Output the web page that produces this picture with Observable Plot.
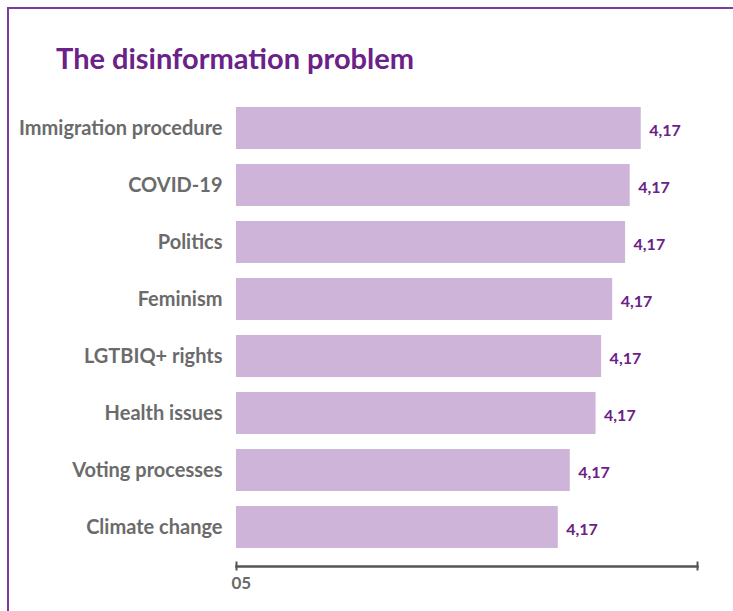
<!DOCTYPE html>
<html>
<head>
<meta charset="utf-8">
<script src="https://cdn.jsdelivr.net/npm/d3@7"></script>
<script src="https://cdn.jsdelivr.net/npm/@observablehq/plot@0.6"></script>
<style>
  html, body { margin: 0; padding: 0; background: #fff; }
  #wrap { position: relative; width: 733px; height: 611px; overflow: hidden; }
  #border { position: absolute; left: 7px; top: 7px; right: -5px; bottom: -5px;
            border-left: 2px solid #7a3d9a; border-top: 2px solid #7a3d9a; }
  #title { position: absolute; left: 56px; top: 43px; margin: 0;
           font-family: Lato, "Noto Sans", sans-serif; font-weight: 700; font-size: 29px;
           color: #6a2188; line-height: 1; }
  #chart { position: absolute; left: 0; top: 0; }
</style>
</head>
<body>
<div id="wrap">
  <div id="border"></div>
  <div id="title">The disinformation problem</div>
  <div id="chart"></div>
</div>
<script>
const categories = ["Immigration procedure", "COVID-19", "Politics", "Feminism", "LGTBIQ+ rights", "Health issues", "Voting processes", "Climate change"];
const values = [4.39, 4.27, 4.22, 4.08, 3.96, 3.90, 3.62, 3.49];
const valueLabels = ["4,17", "4,17", "4,17", "4,17", "4,17", "4,17", "4,17", "4,17"];
const tickValues = [0, 5];
const tickLabels = ["0", "5"];

const data = categories.map((c, i) => ({cat: c, value: values[i], label: valueLabels[i]}));
const font = "Lato, 'Noto Sans', sans-serif";

const chart = Plot.plot({
  width: 733,
  height: 611,
  marginLeft: 236,
  marginRight: 36,
  marginTop: 89,
  marginBottom: 45,
  style: {fontFamily: font, background: "transparent"},
  x: {domain: [0, 5]},
  y: {domain: categories, paddingInner: 0.27, paddingOuter: 0.28},
  marks: [
    Plot.barX(data, {x: "value", y: "cat", fill: "#cdb4d8"}),
    Plot.text(data, {x: "value", y: "cat", text: "label", dx: 8, dy: 2, textAnchor: "start",
      fill: "#6a2188", fontWeight: 700, fontSize: 16}),
    Plot.axisY({tickSize: 0, tickPadding: 14, fontSize: 20, fontWeight: 700, color: "#6b6b6b", label: null}),
    Plot.frame({anchor: "bottom", stroke: "#555", strokeWidth: 2.5}),
    Plot.axisX({ticks: tickValues, tickSize: 9, dy: -4.5, tickFormat: () => "", stroke: "#555", strokeWidth: 2, label: null}),
    Plot.text([tickLabels.join("")], {x: () => 0, frameAnchor: "bottom", dy: 22, dx: -5, textAnchor: "start",
      fill: "#6b6b6b", fontWeight: 700, fontSize: 17})
  ]
});
document.getElementById("chart").appendChild(chart);
</script>
</body>
</html>
